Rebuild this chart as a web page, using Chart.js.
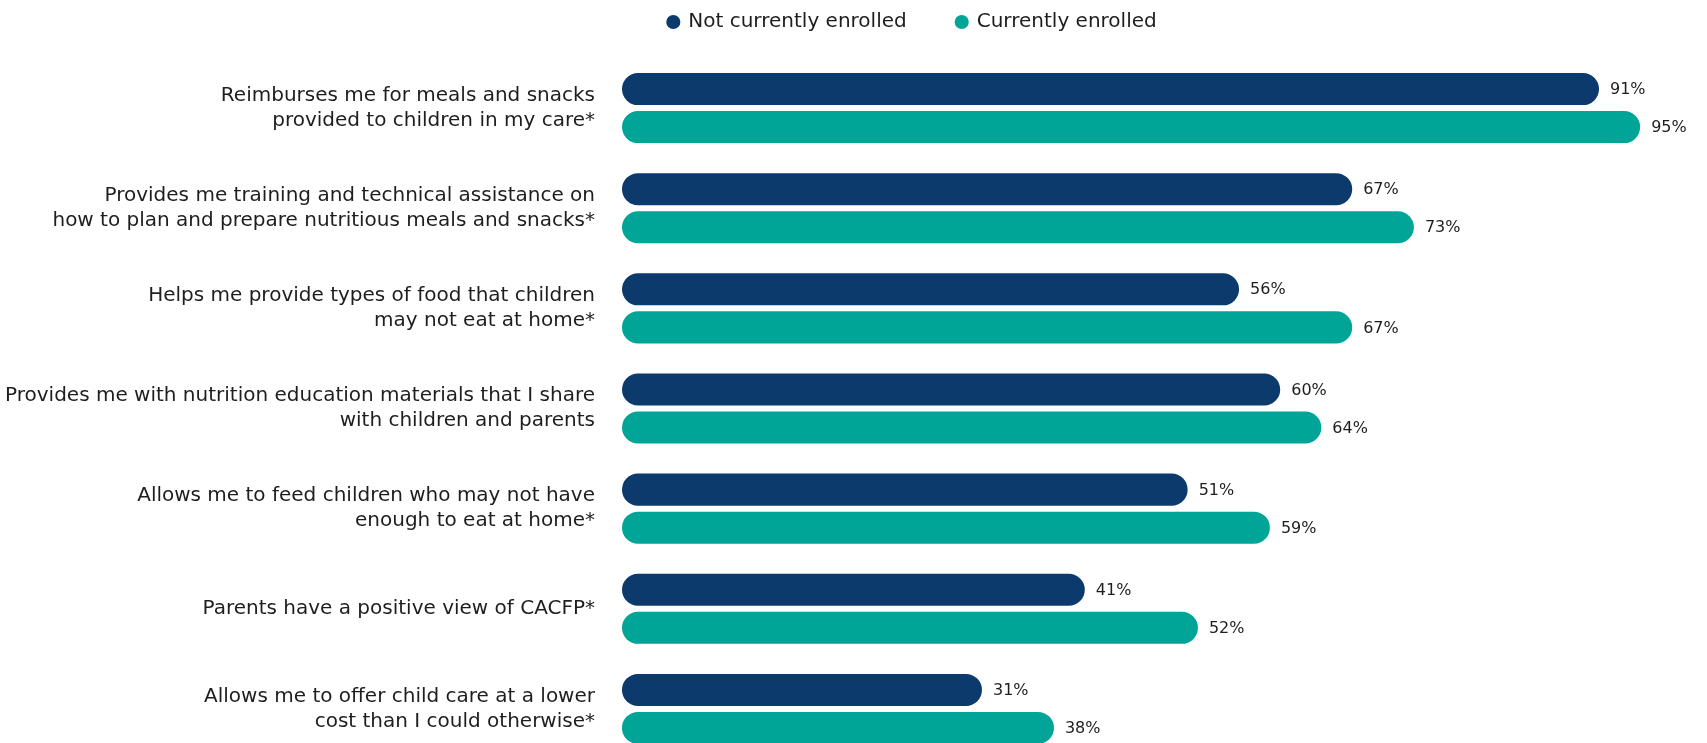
<!DOCTYPE html>
<html>
<head>
<meta charset="utf-8">
<script src="https://cdn.jsdelivr.net/npm/chart.js@4.4.1/dist/chart.umd.min.js"></script>
<style>
  html, body { margin: 0; padding: 0; background: #fff; overflow: hidden; }
  #wrap { width: 1707px; height: 803px; position: relative; }
</style>
</head>
<body>
<div id="wrap"><canvas id="benefits"></canvas></div>
<script>
const benefitLabels = [
    ['Reimburses me for meals and snacks', 'provided to children in my care*'],
    ['Provides me training and technical assistance on', 'how to plan and prepare nutritious meals and snacks*'],
    ['Helps me provide types of food that children', 'may not eat at home*'],
    ['Provides me with nutrition education materials that I share', 'with children and parents'],
    ['Allows me to feed children who may not have', 'enough to eat at home*'],
    'Parents have a positive view of CACFP*',
    ['Allows me to offer child care at a lower', 'cost than I could otherwise*']
];
const seriesNames = ['Not currently enrolled', 'Currently enrolled'];
const notEnrolled = [91, 67, 56, 60, 51, 41, 31];
const enrolled = [95, 73, 67, 64, 59, 52, 38];

const FONT = 'DejaVu Sans';
const TEXT = '#1e1e1e';

// writes the percentage just past the end of each bar
const valueLabels = {
    id: 'valueLabels',
    afterDatasetsDraw(chart) {
        const ctx = chart.ctx;
        ctx.save();
        ctx.font = '16px ' + FONT;
        ctx.fillStyle = TEXT;
        ctx.textAlign = 'left';
        ctx.textBaseline = 'middle';
        chart.data.datasets.forEach((ds, i) => {
            chart.getDatasetMeta(i).data.forEach((bar, j) => {
                ctx.fillText(ds.data[j] + '%', bar.x + 11, bar.y + 1);
            });
        });
        ctx.restore();
    }
};

// legend is centred a bit right of the canvas middle
const legendOffset = {
    id: 'legendOffset',
    afterLayout(chart) {
        chart.legend.left = 118;
    }
};

function barDataset(label, data, color) {
    return {
        label: label,
        data: data,
        backgroundColor: color,
        borderWidth: 0,
        borderRadius: 16,
        borderSkipped: false,
        base: -4,
        barPercentage: 0.842,
        categoryPercentage: 0.76
    };
}

new Chart(document.getElementById('benefits').getContext('2d'), {
    type: 'bar',
    data: {
        labels: benefitLabels,
        datasets: [
            barDataset(seriesNames[0], notEnrolled, '#0c3a6d'),
            barDataset(seriesNames[1], enrolled, '#00a598')
        ]
    },
    options: {
        indexAxis: 'y',
        responsive: true,
        maintainAspectRatio: false,
        animation: false,
        layout: {
            padding: { top: -38, left: 0, right: 0, bottom: 0 }
        },
        plugins: {
            legend: {
                position: 'top',
                align: 'center',
                labels: {
                    usePointStyle: true,
                    pointStyle: 'circle',
                    boxWidth: 10,
                    boxHeight: 10,
                    padding: 50,
                    color: TEXT,
                    font: { family: FONT, size: 20 }
                }
            },
            tooltip: { enabled: false }
        },
        scales: {
            x: {
                position: 'top',
                min: -4,
                max: 101.5,
                grid: { display: false },
                border: { display: false },
                ticks: { display: false },
                afterFit: (scale) => { scale.height = 16; }
            },
            y: {
                grid: { display: false },
                border: { display: false },
                ticks: {
                    autoSkip: false,
                    padding: 19,
                    color: TEXT,
                    font: { family: FONT, size: 20, lineHeight: 1.25 }
                },
                afterFit: (scale) => { scale.width = 622; }
            }
        }
    },
    plugins: [valueLabels, legendOffset]
});
</script>
</body>
</html>
